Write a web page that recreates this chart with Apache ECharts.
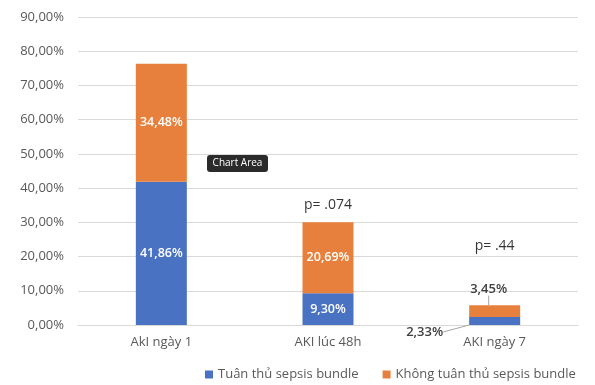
<!DOCTYPE html>
<html>
<head>
<meta charset="utf-8">
<script src="https://cdn.jsdelivr.net/npm/echarts@6/dist/echarts.min.js"></script>
<style>
html,body{margin:0;padding:0;background:#fff;}
#chart{width:595px;height:385px;}
</style>
</head>
<body>
<div id="chart"></div>
<script>
const categories = ['AkI ngày 1', 'AKI lúc 48h', 'AKI ngày 7'];
const seriesNames = ['Tuân thủ sepsis bundle', 'Không tuân thủ sepsis bundle'];
const compliant = [41.86, 9.30, 2.33];
const nonCompliant = [34.48, 20.69, 3.45];
const pValues = ['', 'p= .074', 'p= .44'];
const yTicks = [0, 10, 20, 30, 40, 50, 60, 70, 80, 90];

const fmt = v => v.toFixed(2).replace('.', ',') + '%';
const FONT = '"Open Sans", "Noto Sans", sans-serif';

const chart = echarts.init(document.getElementById('chart'), null, {renderer: 'canvas'});

// label placement for the small last bar: pulled outside with a guide line
function smallBarLayout(seriesIdx) {
  return function (params) {
    if (params.dataIndex !== 2) return {};
    return seriesIdx === 1 ? {dx: -6, dy: -22} : {dx: -70, dy: 11};
  };
}

const totals = compliant.map((v, i) => v + nonCompliant[i]);
// gap between each bar top and its significance note
const pGap = [0, 10, 52];

chart.setOption({
  animation: false,
  textStyle: {fontFamily: FONT},
  grid: {left: 78, right: 17, top: 17, bottom: 60},
  legend: {
    bottom: -1,
    left: 200,
    itemWidth: 8,
    itemHeight: 8,
    itemGap: 24,
    icon: 'rect',
    textStyle: {color: '#595959', fontSize: 13, fontFamily: FONT},
    data: seriesNames
  },
  xAxis: {
    type: 'category',
    data: categories,
    axisLine: {lineStyle: {color: '#d9d9d9'}},
    axisTick: {show: false},
    axisLabel: {color: '#595959', fontSize: 13, margin: 11, fontFamily: FONT}
  },
  yAxis: {
    type: 'value',
    min: yTicks[0],
    max: yTicks[yTicks.length - 1],
    interval: 10,
    axisLine: {show: false},
    axisTick: {show: false},
    splitLine: {lineStyle: {color: '#d9d9d9'}},
    axisLabel: {color: '#595959', fontSize: 13, margin: 14, fontFamily: FONT,
      formatter: v => fmt(v)}
  },
  series: [
    {
      name: seriesNames[0],
      type: 'bar',
      stack: 'aki',
      barWidth: 51,
      itemStyle: {color: '#4A72C2'},
      data: compliant.map((v, i) => ({
        value: v,
        label: i === 2 ? {color: '#404040', fontSize: 13} : {}
      })),
      label: {
        show: true, position: 'inside', color: '#fff', fontSize: 12.5, fontWeight: 600,
        fontFamily: FONT, formatter: p => fmt(p.value)
      },
      labelLine: {show: true, lineStyle: {color: '#a6a6a6', width: 1}},
      labelLayout: smallBarLayout(0)
    },
    {
      name: seriesNames[1],
      type: 'bar',
      stack: 'aki',
      barWidth: 51,
      itemStyle: {color: '#E8803D'},
      data: nonCompliant.map((v, i) => ({
        value: v,
        label: i === 2 ? {color: '#404040', fontSize: 13} : {}
      })),
      label: {
        show: true, position: 'inside', color: '#fff', fontSize: 12.5, fontWeight: 600,
        fontFamily: FONT, formatter: p => fmt(p.value)
      },
      labelLine: {show: true, lineStyle: {color: '#a6a6a6', width: 1}},
      labelLayout: smallBarLayout(1)
    },
    {
      // significance notes above the bars
      name: 'p',
      type: 'scatter',
      symbolSize: 0,
      silent: true,
      data: totals.map((t, i) => ({value: [i, t], label: {distance: pGap[i]}})),
      label: {
        show: true, position: 'top',
        color: '#000', fontSize: 14, fontWeight: 500, fontFamily: FONT,
        formatter: p => pValues[p.dataIndex]
      }
    }
  ],
  graphic: [
    {
      type: 'group', left: 207, top: 155,
      children: [
        {type: 'rect', shape: {x: 0, y: 0, width: 61, height: 17, r: 3},
          style: {fill: '#2b2b2b'}},
        {type: 'text', x: 30.5, y: 8.5,
          style: {text: 'Chart Area', fill: '#fff', fontSize: 10, fontFamily: FONT,
            align: 'center', verticalAlign: 'middle'}}
      ]
    }
  ]
});
</script>
</body>
</html>
